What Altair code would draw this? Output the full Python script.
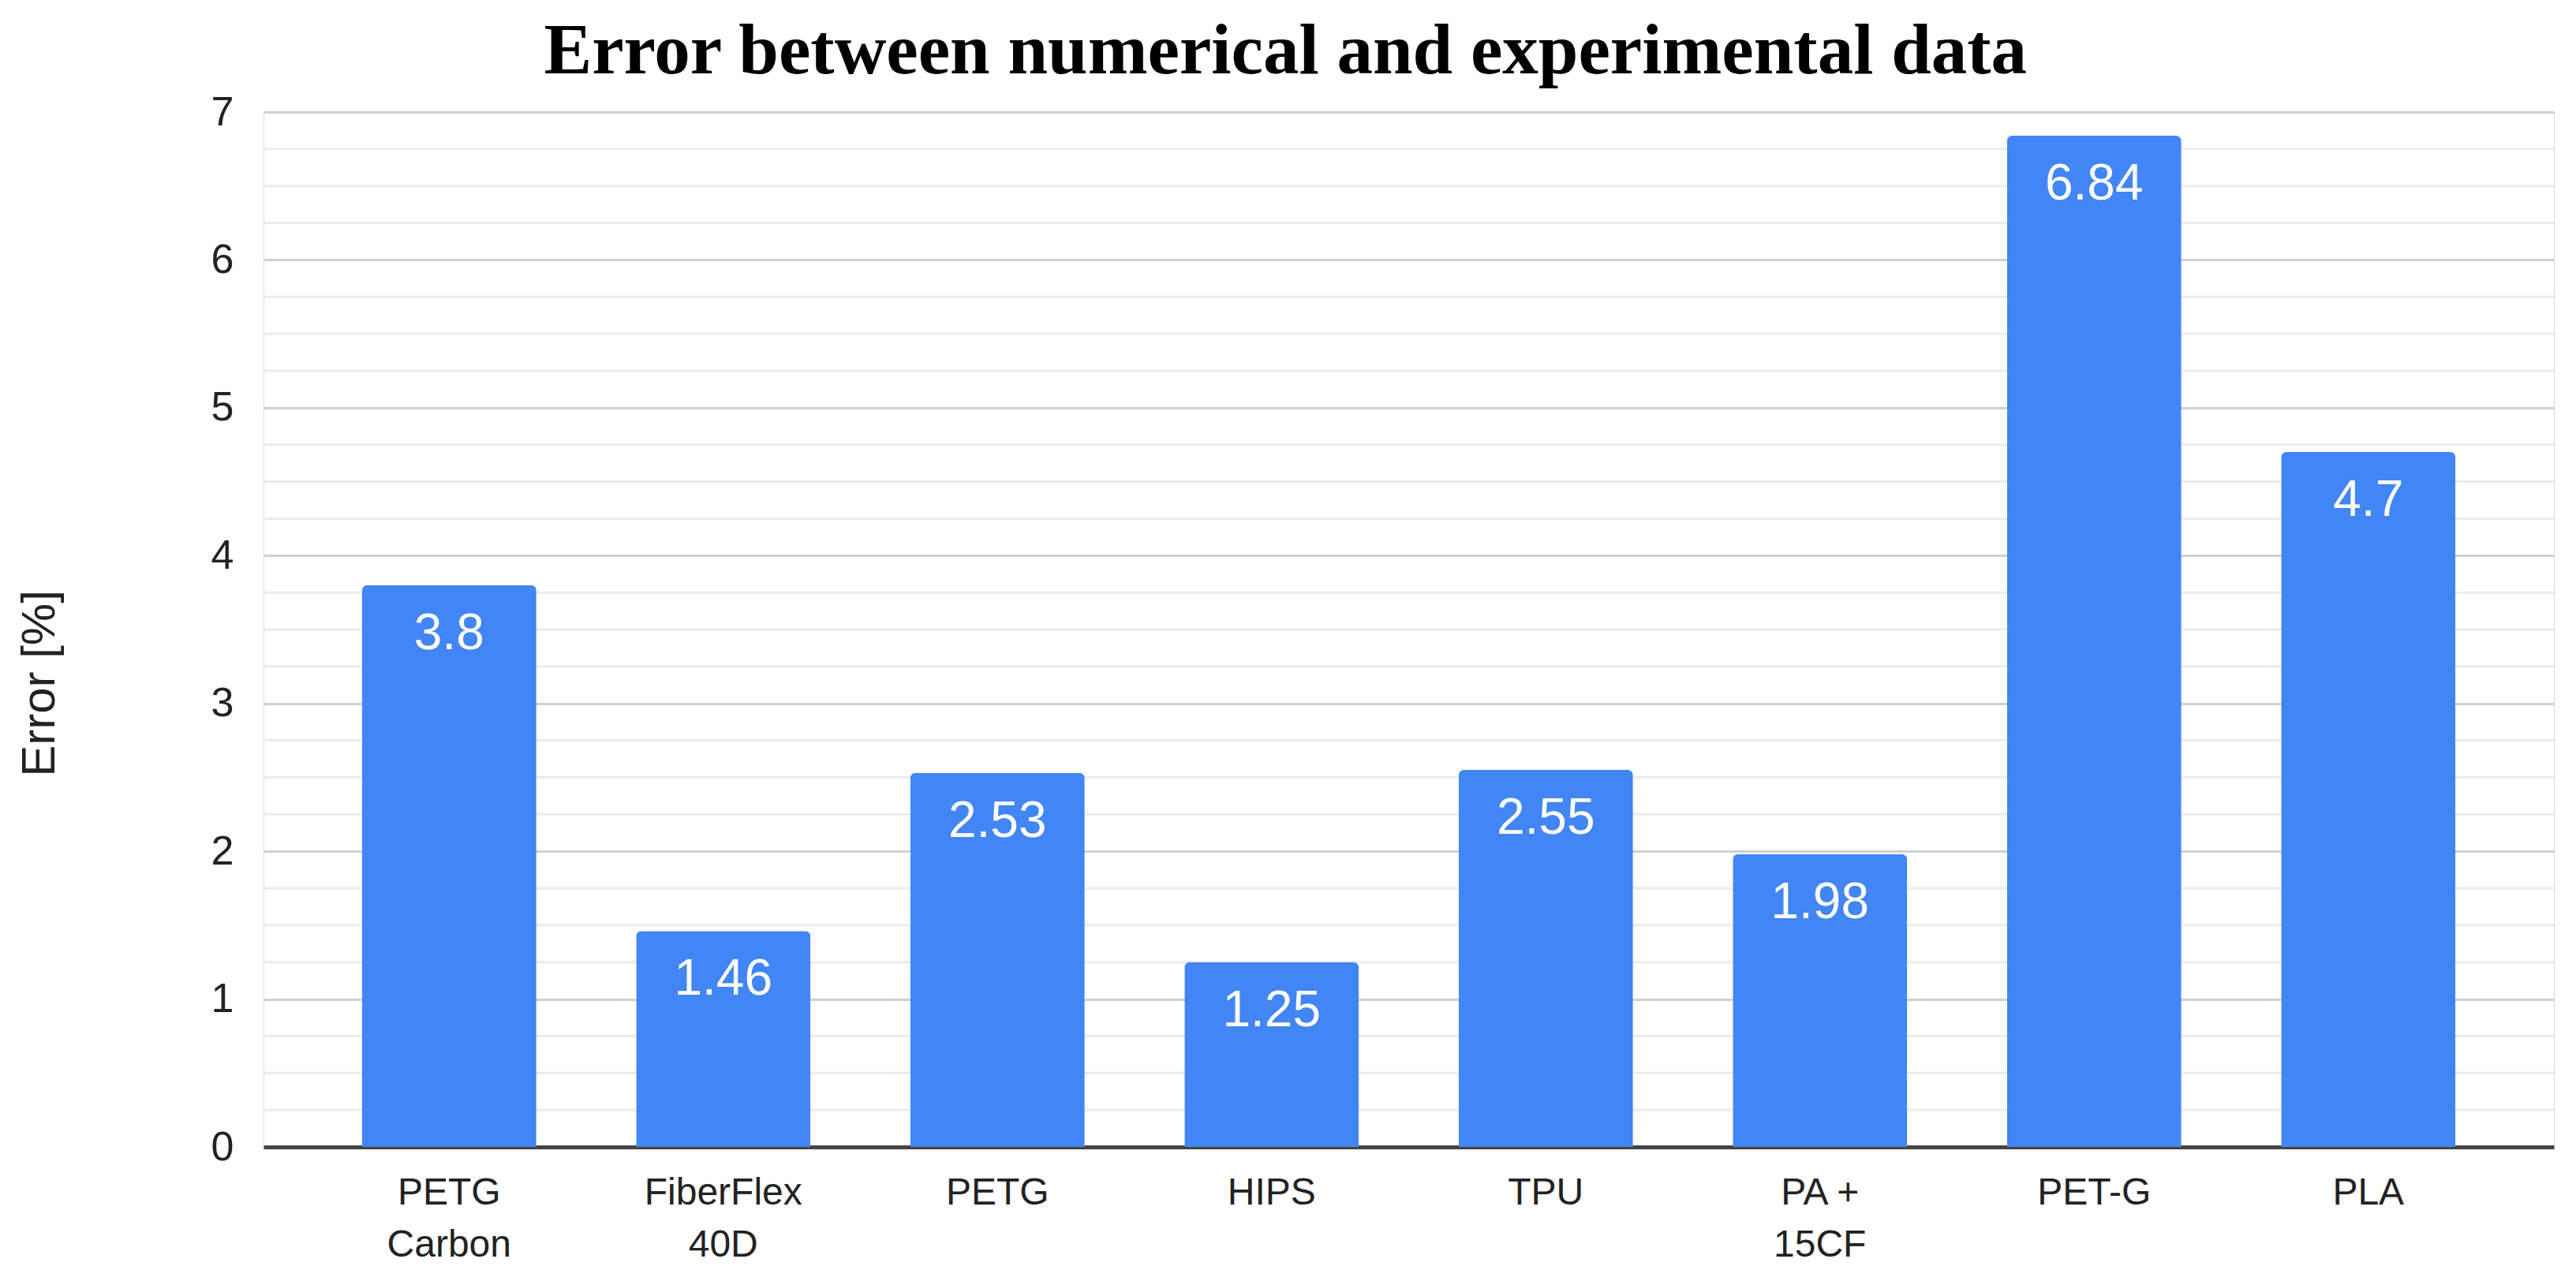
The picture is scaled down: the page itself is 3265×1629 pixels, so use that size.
import altair as alt
import pandas as pd

materials = ["PETG\nCarbon", "FiberFlex\n40D", "PETG", "HIPS", "TPU", "PA +\n15CF", "PET-G", "PLA"]
errors = [3.8, 1.46, 2.53, 1.25, 2.55, 1.98, 6.84, 4.7]
labels = ["3.8", "1.46", "2.53", "1.25", "2.55", "1.98", "6.84", "4.7"]
major_ticks = [0, 1, 2, 3, 4, 5, 6, 7]
minor_ticks = [0.25, 0.5, 0.75, 1.25, 1.5, 1.75, 2.25, 2.5, 2.75, 3.25, 3.5, 3.75,
               4.25, 4.5, 4.75, 5.25, 5.5, 5.75, 6.25, 6.5, 6.75]

df = pd.DataFrame({"material": materials, "error": errors, "label": labels})
minor_df = pd.DataFrame({"v": minor_ticks})

W, H = 2903, 1312
yscale = alt.Scale(domain=[0, 7], nice=False)
yaxis = alt.Axis(values=major_ticks, title="Error [%]", titleFontSize=60,
                 titleFont="Liberation Sans", titleFontWeight="normal", titleColor="#222222",
                 titlePadding=186, titleY=724, labelFontSize=52, labelFont="Liberation Sans",
                 labelColor="#222222", labelPadding=38, ticks=False, domain=False,
                 grid=True, gridColor="#d0d0d0", gridWidth=3)
xscale = alt.Scale(paddingInner=0.364, paddingOuter=0.359)
xaxis = alt.Axis(title=None, labelExpr="split(datum.label, '\\n')", labelAngle=0,
                 labelFontSize=48, labelFont="Liberation Sans", labelColor="#222222",
                 labelPadding=34, labelLineHeight=66, labelLimit=600, ticks=False,
                 domainColor="#444444", domainWidth=5, grid=False)

minor = alt.Chart(minor_df).mark_rule(color="#ebebeb", strokeWidth=3).encode(
    y=alt.Y("v:Q", scale=yscale, axis=yaxis)
)

bars = alt.Chart(df).mark_bar(color="#4285F4", cornerRadiusTopLeft=7, cornerRadiusTopRight=7).encode(
    x=alt.X("material:N", sort=None, scale=xscale, axis=xaxis),
    y=alt.Y("error:Q", scale=yscale, axis=yaxis)
)

text = alt.Chart(df).mark_text(color="white", fontSize=64, font="Liberation Sans",
                               baseline="middle", dy=62).encode(
    x=alt.X("material:N", sort=None, scale=xscale, axis=xaxis),
    y=alt.Y("error:Q", scale=yscale, axis=yaxis),
    text="label:N"
)

chart = alt.layer(minor, bars, text).properties(
    width=W, height=H,
    padding={"left": 12, "top": 12, "right": 15, "bottom": 5},
    title=alt.TitleParams("Error between numerical and experimental data",
                          font="Liberation Serif", fontSize=91, fontWeight="bold",
                          color="#000000", anchor="middle", frame="bounds", offset=4)
).configure_view(stroke=None).configure(background="white")

chart.save("out.html", embed_options={"renderer": "svg", "actions": False})
